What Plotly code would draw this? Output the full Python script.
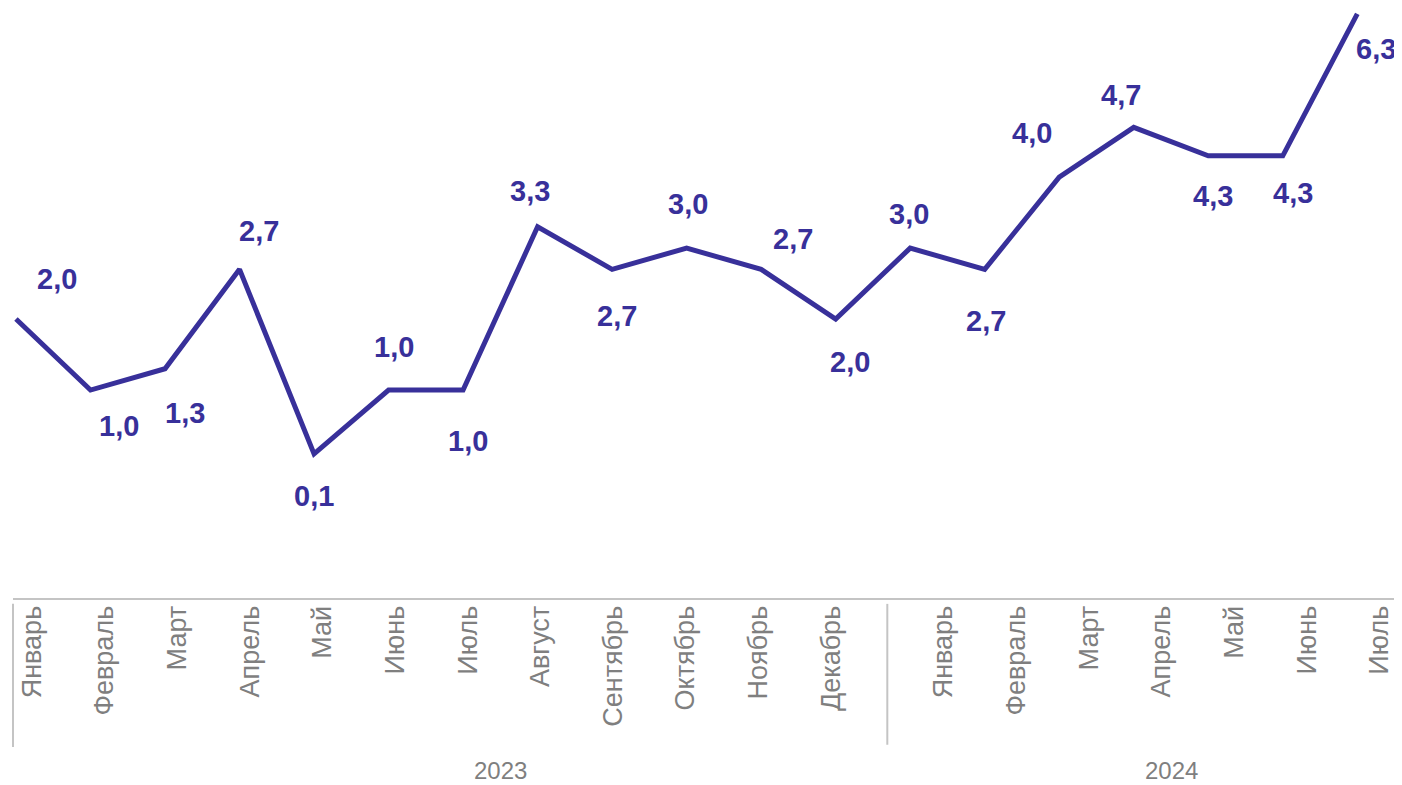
import plotly.graph_objects as go

# ---- data ----
months = ["Январь", "Февраль", "Март", "Апрель", "Май", "Июнь", "Июль", "Август",
          "Сентябрь", "Октябрь", "Ноябрь", "Декабрь",
          "Январь", "Февраль", "Март", "Апрель", "Май", "Июнь", "Июль"]
years = ["2023"] * 12 + ["2024"] * 7
values = [2.0, 1.0, 1.3, 2.7, 0.1, 1.0, 1.0, 3.3, 2.7, 3.0, 2.7, 2.0,
          3.0, 2.7, 4.0, 4.7, 4.3, 4.3, 6.3]

# ---- styles ----
LINE_COLOR = "#38309A"
GRAY = "#7F7F7F"
AXIS_GRAY = "#C4C4C4"
FONT = "Liberation Sans, Arial, sans-serif"

# label offsets (px) relative to each point: (dx right, dy down)
label_offsets = [(41, -40), (28, 36), (20, 44), (19, -38), (0, 42), (5, -43),
                 (5, 51), (-8, -36), (5, 47), (1, -44), (32, -30), (14, 43),
                 (-1, -34), (1, 52), (-27, -44), (-13, -32), (5, 40), (10, 37),
                 (19, 35)]

group_gap = 0.55           # extra space between year groups on the label axis
year_xshift = {"2023": 69, "2024": 10}

x_idx = list(range(len(values)))
year_order = []
for yv in years:
    if yv not in year_order:
        year_order.append(yv)
label_pos = [i + group_gap * year_order.index(yv) for i, yv in enumerate(years)]

fig = go.Figure()
fig.add_trace(go.Scatter(
    x=x_idx, y=values, mode="lines",
    line=dict(color=LINE_COLOR, width=5),
    hoverinfo="skip", showlegend=False,
))

annotations = []
for i, v in enumerate(values):
    dx, dy = label_offsets[i]
    annotations.append(dict(
        x=i, y=v, xref="x", yref="y", text=f"{v:.1f}".replace(".", ","),
        showarrow=False, xshift=dx, yshift=-dy,
        font=dict(family=FONT, size=29, color=LINE_COLOR, weight="bold"),
    ))

# year labels and group separators
shapes = [dict(type="line", xref="paper", yref="paper", x0=0, x1=0,
               y0=-0.010, y1=-0.254, line=dict(color=AXIS_GRAY, width=2))]
for k, yv in enumerate(year_order):
    pos = [p for p, yy in zip(label_pos, years) if yy == yv]
    center = (pos[0] + pos[-1]) / 2
    annotations.append(dict(
        x=center, y=-0.294, xref="x2", yref="paper", text=yv, showarrow=False,
        xshift=year_xshift[yv], yanchor="middle",
        font=dict(family=FONT, size=24, color=GRAY),
    ))
    if k > 0:
        prev = [p for p, yy in zip(label_pos, years) if yy == year_order[k - 1]]
        b = (prev[-1] + pos[0]) / 2
        shapes.append(dict(type="line", xref="x2", yref="paper", x0=b, x1=b,
                           y0=-0.010, y1=-0.250,
                           line=dict(color=AXIS_GRAY, width=2)))

fig.update_layout(
    width=1394, height=777,
    margin=dict(l=5, r=0, t=3, b=187),
    paper_bgcolor="white", plot_bgcolor="white",
    showlegend=False,
    xaxis=dict(visible=False, range=[-0.04, 18.6]),
    xaxis2=dict(
        overlaying="x", anchor="y", side="bottom",
        range=[-0.26, 18.86],
        tickmode="array", tickvals=label_pos, ticktext=months,
        tickangle=-90, ticks="", showgrid=False, zeroline=False,
        showline=True, linecolor=AXIS_GRAY, linewidth=2,
        ticklabelstandoff=-5,
        tickfont=dict(family=FONT, size=27, color=GRAY),
    ),
    yaxis=dict(visible=False, range=[-1.93, 6.34]),
    annotations=annotations,
    shapes=shapes,
)

fig.write_html("out.html")
